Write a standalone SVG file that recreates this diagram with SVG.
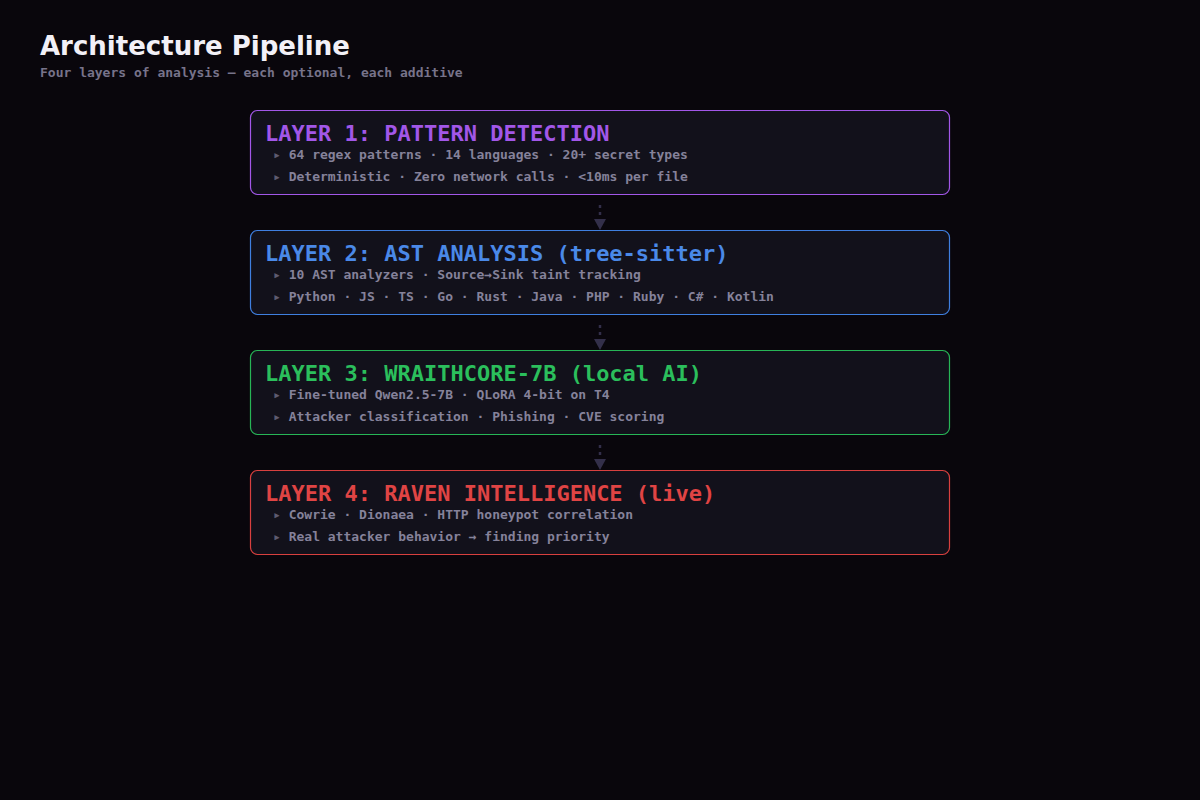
<svg xmlns="http://www.w3.org/2000/svg" width="1200" height="800" viewBox="0 0 1200 800">
<style>
.bg{fill:#09060c}
.box{fill:#12111b;stroke-width:1.2}
.title{font-family:"DejaVu Sans","Liberation Sans",sans-serif;font-weight:bold;font-size:26px;fill:#f2f0f7}
.sub{font-family:"DejaVu Sans Mono","Liberation Mono",monospace;font-size:13px;fill:#77738a;font-weight:bold}
.lt{font-family:"DejaVu Sans Mono","Liberation Mono",monospace;font-size:22px;font-weight:bold}
.ln{font-family:"DejaVu Sans Mono","Liberation Mono",monospace;font-size:13px;font-weight:bold;fill:#85829a}
.bul{fill:#5e5b70}
.conn line{stroke:#332f4a;stroke-width:2.5;stroke-dasharray:3 4}
.conn polygon{fill:#332f4a}
</style>
<rect class="bg" x="0" y="0" width="1200" height="800"/>
<g id="header">
<text class="title" x="40" y="55">Architecture Pipeline</text>
<text class="sub" x="40" y="77">Four layers of analysis — each optional, each additive</text>
</g>
<g id="connectors" class="conn">
<line x1="600" y1="205" x2="600" y2="219"/><polygon points="594,219 606,219 600,230"/>
<line x1="600" y1="325" x2="600" y2="339"/><polygon points="594,339 606,339 600,350"/>
<line x1="600" y1="445" x2="600" y2="459"/><polygon points="594,459 606,459 600,470"/>
</g>
<g id="layer1">
<rect class="box" x="250.5" y="110.5" width="699" height="84" rx="7" stroke="#a257e8"/>
<text class="lt" x="265" y="141" fill="#a257e8">LAYER 1: PATTERN DETECTION</text>
<text class="ln" x="273" y="159"><tspan class="bul">▸</tspan> 64 regex patterns · 14 languages · 20+ secret types</text>
<text class="ln" x="273" y="181"><tspan class="bul">▸</tspan> Deterministic · Zero network calls · &lt;10ms per file</text>
</g>
<g id="layer2">
<rect class="box" x="250.5" y="230.5" width="699" height="84" rx="7" stroke="#3f7fe0"/>
<text class="lt" x="265" y="261" fill="#4a89e8">LAYER 2: AST ANALYSIS (tree-sitter)</text>
<text class="ln" x="273" y="279"><tspan class="bul">▸</tspan> 10 AST analyzers · Source→Sink taint tracking</text>
<text class="ln" x="273" y="301"><tspan class="bul">▸</tspan> Python · JS · TS · Go · Rust · Java · PHP · Ruby · C# · Kotlin</text>
</g>
<g id="layer3">
<rect class="box" x="250.5" y="350.5" width="699" height="84" rx="7" stroke="#27b556"/>
<text class="lt" x="265" y="381" fill="#2bbf5c">LAYER 3: WRAITHCORE-7B (local AI)</text>
<text class="ln" x="273" y="399"><tspan class="bul">▸</tspan> Fine-tuned Qwen2.5-7B · QLoRA 4-bit on T4</text>
<text class="ln" x="273" y="421"><tspan class="bul">▸</tspan> Attacker classification · Phishing · CVE scoring</text>
</g>
<g id="layer4">
<rect class="box" x="250.5" y="470.5" width="699" height="84" rx="7" stroke="#d8403f"/>
<text class="lt" x="265" y="501" fill="#e04444">LAYER 4: RAVEN INTELLIGENCE (live)</text>
<text class="ln" x="273" y="519"><tspan class="bul">▸</tspan> Cowrie · Dionaea · HTTP honeypot correlation</text>
<text class="ln" x="273" y="541"><tspan class="bul">▸</tspan> Real attacker behavior → finding priority</text>
</g>
</svg>
